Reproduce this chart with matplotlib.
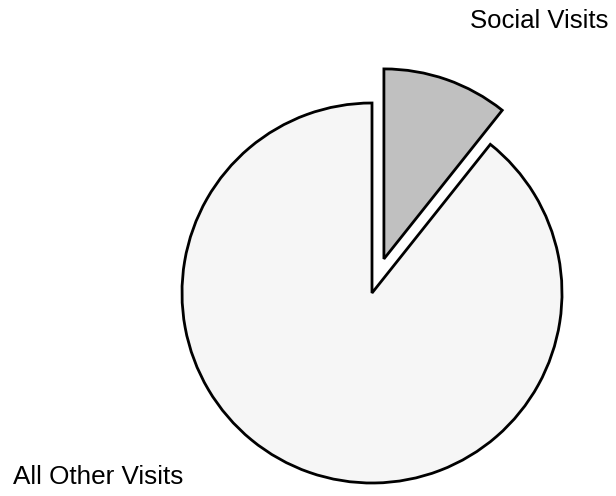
import matplotlib.pyplot as plt

labels = ['Social Visits', 'All Other Visits']
shares = [10.7, 89.3]
explode = [0.19, 0.0]
colors = ['#c0c0c0', '#f6f6f6']

plt.rcParams['font.family'] = ['Liberation Sans', 'DejaVu Sans']

fig = plt.figure(figsize=(6.16, 4.96), dpi=100)
ax = fig.add_axes([0, 0, 1, 1])

wedges, _ = ax.pie(shares, explode=explode, colors=colors, startangle=90,
                   counterclock=False, radius=1.0,
                   wedgeprops=dict(edgecolor='black', linewidth=2.0))

# pixel-based limits: 190 px per unit, pie centre at (372, 293)
scale = 190.0
ax.set_xlim(-372 / scale, (616 - 372) / scale)
ax.set_ylim(-(496 - 293) / scale, 293 / scale)
ax.set_aspect('auto')
ax.axis('off')

ax.text(1.242, 1.395, labels[0], ha='right', va='baseline', fontsize=18.5)
ax.text(-1.889, -1.005, labels[1], ha='left', va='baseline', fontsize=18.8)

fig.savefig('out.png', dpi=100)
